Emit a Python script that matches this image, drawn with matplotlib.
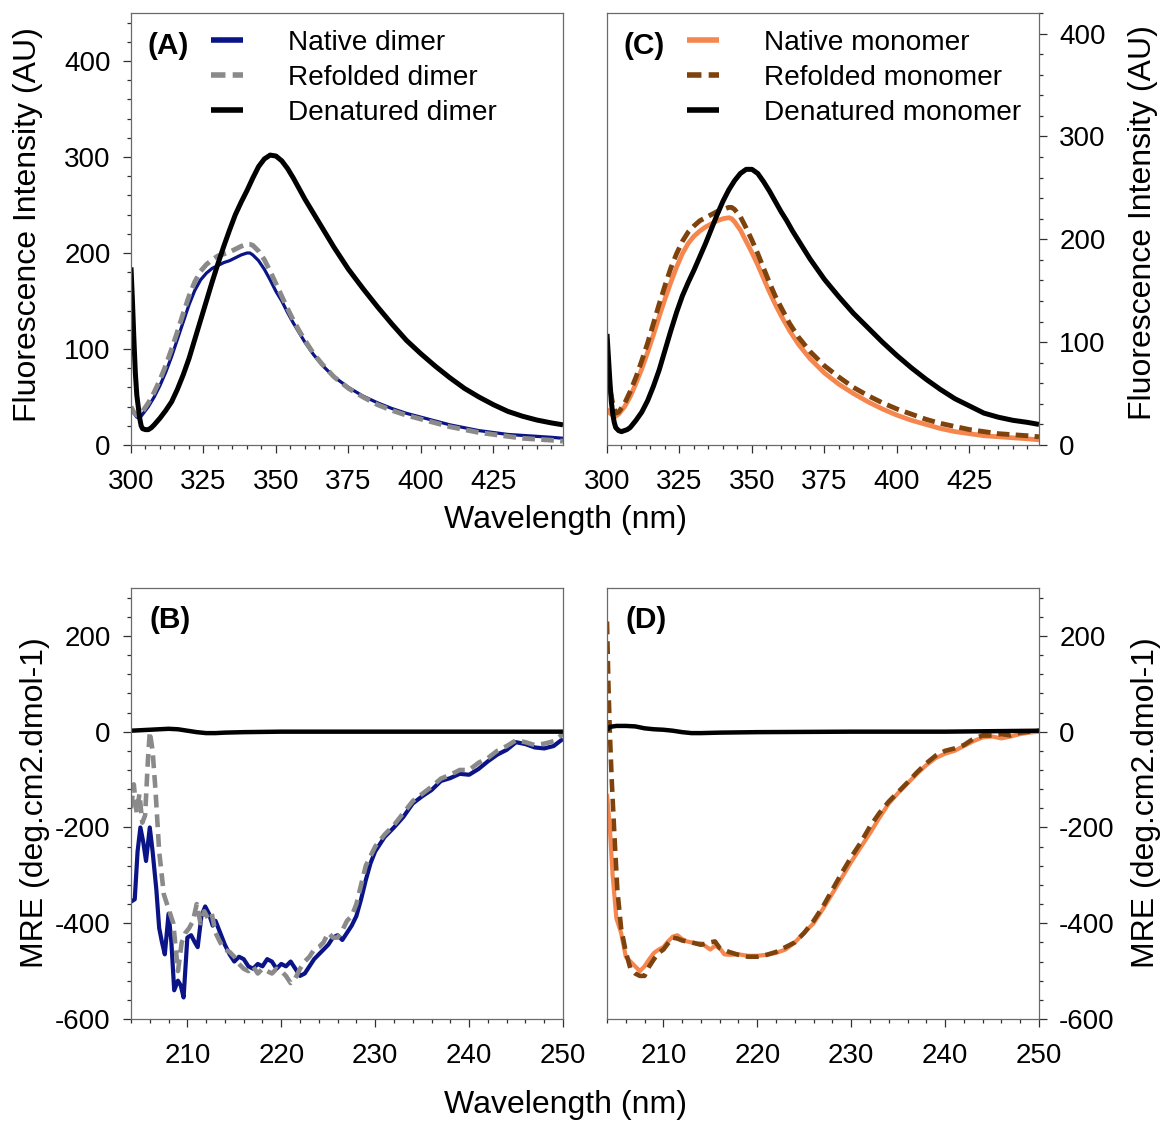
import numpy as np
import matplotlib
matplotlib.use('Agg')
import matplotlib.pyplot as plt
from matplotlib.ticker import MultipleLocator

plt.rcParams['font.family'] = ['Liberation Sans', 'DejaVu Sans']
plt.rcParams['axes.unicode_minus'] = False

# ---- Fluorescencia (A, C): pares (comprimento de onda nm, intensidade AU) ----
dimero_nativo = [(300, 38), (301, 33), (302, 29), (303, 28), (304, 32), (306, 40), (308, 50), (310, 62),
                 (312, 76), (314, 92), (316, 110), (318, 128), (320, 146), (322, 161), (324, 172), (326, 179),
                 (328, 184), (330, 187), (332, 190), (334, 192), (336, 195), (338, 198), (340, 200), (341, 200),
                 (342, 198), (344, 192), (346, 183), (348, 172), (350, 160), (352, 150), (354, 138), (356, 127),
                 (358, 117), (360, 107), (363, 94), (366, 83), (370, 71), (375, 60), (380, 51), (385, 44),
                 (390, 38), (395, 33), (400, 29), (405, 25), (410, 21), (415, 18), (420, 15), (425, 13),
                 (430, 11), (435, 10), (440, 9), (445, 8), (449, 7)]
dimero_redobrado = [(300, 40), (301, 34), (302, 31), (303, 31), (304, 35), (306, 44), (308, 55), (310, 68),
                    (312, 83), (314, 100), (316, 118), (318, 137), (320, 155), (322, 170), (324, 181), (326, 188),
                    (328, 193), (330, 197), (332, 199), (334, 201), (336, 204), (338, 207), (340, 209), (341, 209),
                    (342, 208), (344, 202), (346, 193), (348, 181), (350, 168), (352, 155), (354, 142), (356, 130),
                    (358, 119), (360, 109), (363, 95), (366, 84), (370, 71), (375, 59), (380, 50), (385, 42),
                    (390, 36), (395, 31), (400, 27), (405, 23), (410, 19), (415, 16), (420, 13), (425, 11),
                    (430, 9), (435, 7), (440, 6), (445, 5), (449, 4)]
dimero_desnat = [(300, 185), (300.5, 150), (301, 110), (301.5, 75), (302, 52), (302.5, 40), (303, 28),
                 (303.5, 20), (304, 17), (305, 16), (306, 16), (307, 18), (308, 21), (310, 28), (312, 36),
                 (314, 45), (316, 58), (318, 73), (320, 90), (322, 110), (324, 130), (326, 150), (328, 170),
                 (330, 189), (332, 207), (334, 224), (336, 240), (338, 253), (340, 265), (342, 278), (344, 290),
                 (346, 298), (348, 302), (350, 301), (352, 296), (354, 288), (356, 278), (358, 267), (360, 256),
                 (362, 246), (364, 236), (366, 226), (368, 216), (370, 206), (375, 183), (380, 163), (385, 144),
                 (390, 126), (395, 109), (400, 95), (405, 82), (410, 70), (415, 59), (420, 50), (425, 42),
                 (430, 35), (435, 30), (440, 26), (445, 23), (449, 21)]

monomero_nativo = [(300, 35), (301, 31), (302, 29), (303, 28), (304, 30), (306, 37), (308, 47), (310, 60),
                   (312, 74), (314, 90), (316, 107), (318, 125), (320, 142), (322, 158), (324, 173), (326, 186),
                   (328, 196), (330, 203), (332, 208), (334, 212), (336, 215), (338, 218), (340, 220), (342, 221),
                   (343, 220), (344, 217), (346, 209), (348, 198), (350, 187), (352, 175), (354, 162), (356, 149),
                   (358, 137), (360, 126), (363, 111), (366, 98), (370, 84), (375, 70), (380, 59), (385, 50),
                   (390, 42), (395, 35), (400, 29), (405, 24), (410, 20), (415, 16), (420, 13), (425, 11),
                   (430, 9), (435, 8), (440, 7), (445, 6), (449, 5)]
monomero_redobrado = [(300, 71), (301, 55), (302, 40), (303, 31), (304, 32), (306, 40), (308, 52), (310, 66),
                      (312, 82), (314, 99), (316, 118), (318, 137), (320, 155), (322, 172), (324, 186), (326, 198),
                      (328, 207), (330, 213), (332, 218), (334, 221), (336, 224), (338, 227), (340, 229), (342, 231),
                      (343, 231), (344, 229), (346, 222), (348, 211), (350, 199), (352, 186), (354, 172), (356, 158),
                      (358, 145), (360, 134), (363, 118), (366, 105), (370, 91), (375, 77), (380, 66), (385, 56),
                      (390, 48), (395, 41), (400, 35), (405, 30), (410, 25), (415, 21), (420, 18), (425, 15),
                      (430, 13), (435, 11), (440, 10), (445, 9), (449, 8)]
monomero_desnat = [(300, 108), (300.5, 85), (301, 62), (301.5, 42), (302, 30), (302.5, 22), (303, 17),
                   (304, 14), (305, 13), (306, 14), (307, 15), (308, 17), (310, 24), (312, 32), (314, 43),
                   (316, 57), (318, 73), (320, 92), (322, 111), (324, 129), (326, 145), (328, 158), (330, 170),
                   (332, 183), (334, 196), (336, 210), (338, 224), (340, 237), (342, 248), (344, 257), (346, 264),
                   (348, 268), (350, 268), (352, 264), (354, 256), (356, 247), (358, 237), (360, 227), (362, 218),
                   (364, 208), (366, 199), (368, 190), (370, 181), (375, 161), (380, 144), (385, 128), (390, 114),
                   (395, 100), (400, 87), (405, 75), (410, 64), (415, 54), (420, 45), (425, 38), (430, 31),
                   (435, 27), (440, 24), (445, 22), (449, 20)]

# ---- Dicroismo circular (B, D): pares (nm, MRE) ----
cd_dimero_nativo = [(204, -355), (204.4, -350), (204.7, -250), (205, -200), (205.3, -230), (205.6, -270),
                    (206, -200), (206.3, -250), (206.7, -330), (207, -410), (207.3, -440), (207.6, -465),
                    (208, -380), (208.3, -440), (208.6, -540), (209, -520), (209.3, -530), (209.6, -555),
                    (210, -430), (210.4, -425), (210.8, -440), (211.1, -450), (211.5, -385), (211.9, -365),
                    (212.3, -380), (212.7, -405), (213, -395), (213.5, -420), (214, -445), (214.5, -465),
                    (215, -480), (215.5, -470), (216, -475), (216.5, -490), (217, -495), (217.5, -485),
                    (218, -490), (218.5, -475), (219, -480), (219.5, -495), (220, -485), (220.5, -490),
                    (221, -480), (221.5, -495), (222, -510), (222.5, -505), (223, -490), (223.5, -475),
                    (224, -465), (224.5, -455), (225, -445), (225.5, -430), (226, -425), (226.5, -435),
                    (227, -420), (227.5, -405), (228, -385), (228.5, -350), (229, -310), (229.5, -275),
                    (230, -250), (231, -220), (232, -200), (233, -178), (234, -150), (235, -135), (236, -122),
                    (237, -103), (238, -97), (239, -88), (240, -90), (241, -78), (242, -62), (243, -48),
                    (244, -38), (245, -22), (246, -26), (247, -33), (248, -35), (249, -30), (250, -15)]
cd_dimero_redobrado = [(204, -160), (204.3, -110), (204.6, -170), (204.9, -130), (205.2, -190), (205.5, -175),
                       (205.8, -60), (206, 0), (206.3, -40), (206.6, -120), (207, -250), (207.5, -340),
                       (208, -370), (208.5, -400), (209, -500), (209.4, -440), (209.8, -420), (210.2, -410),
                       (210.6, -395), (211, -360), (211.4, -400), (211.8, -375), (212.2, -390), (212.6, -380),
                       (213, -420), (213.5, -440), (214, -455), (214.5, -460), (215, -470), (215.5, -485),
                       (216, -495), (216.5, -500), (217, -490), (217.5, -505), (218, -495), (218.5, -500),
                       (219, -505), (219.5, -495), (220, -500), (220.5, -510), (221, -525), (221.5, -515),
                       (222, -495), (222.5, -480), (223, -470), (223.5, -455), (224, -450), (224.5, -440),
                       (225, -420), (225.5, -430), (226, -430), (226.5, -415), (227, -395), (227.5, -385),
                       (228, -360), (228.5, -320), (229, -280), (229.5, -260), (230, -240), (231, -215),
                       (232, -195), (233, -170), (234, -145), (235, -130), (236, -115), (237, -98), (238, -90),
                       (239, -80), (240, -80), (241, -65), (242, -55), (243, -40), (244, -30), (245, -18),
                       (246, -22), (247, -28), (248, -25), (249, -20), (250, -5)]
cd_dimero_desnat = [(204, 2), (205, 3), (206, 4), (207, 5), (208, 6), (209, 5), (210, 2), (211, -1),
                    (212, -3), (213, -3), (214, -2), (216, -1), (220, 0), (230, 0), (240, 0), (250, 0)]

cd_monomero_nativo = [(204, -130), (204.3, -200), (204.6, -300), (205, -390), (205.5, -420), (206, -470),
                      (206.5, -480), (207, -490), (207.5, -500), (208, -490), (208.5, -475), (209, -462),
                      (209.5, -455), (210, -450), (210.5, -438), (211, -428), (211.5, -425), (212, -433),
                      (212.5, -438), (213, -440), (213.5, -442), (214, -442), (214.5, -448), (215, -455),
                      (215.5, -447), (216, -452), (216.5, -465), (217, -466), (218, -465), (219, -468),
                      (220, -468), (221, -466), (222, -462), (223, -455), (224, -440), (225, -420), (226, -400),
                      (227, -370), (228, -338), (229, -305), (230, -272), (231, -242), (232, -212), (233, -180),
                      (234, -150), (235, -128), (236, -108), (237, -88), (238, -70), (239, -55), (240, -46),
                      (241, -40), (242, -30), (243, -20), (244, -12), (245, -10), (246, -14), (247, -10),
                      (248, -5), (249, -2), (250, 0)]
cd_monomero_redobrado = [(204, 230), (204.15, 100), (204.3, 0), (204.5, -100), (204.8, -220), (205.1, -330),
                         (205.5, -410), (206, -460), (206.5, -495), (207, -505), (207.5, -510), (208, -510),
                         (208.5, -490), (209, -475), (209.5, -462), (210, -455), (210.5, -442), (211, -430),
                         (211.5, -432), (212, -436), (213, -440), (214, -445), (215, -440), (215.5, -438),
                         (216, -452), (217, -460), (218, -466), (219, -470), (220, -470), (221, -466),
                         (222, -460), (223, -450), (224, -440), (225, -420), (226, -395), (227, -365),
                         (228, -330), (229, -295), (230, -262), (231, -232), (232, -198), (233, -170),
                         (234, -146), (235, -126), (236, -106), (237, -85), (238, -66), (239, -50), (240, -40),
                         (241, -35), (242, -28), (243, -15), (244, -8), (245, -8), (246, -5), (247, -8),
                         (248, -2), (249, 0), (250, 2)]
cd_monomero_desnat = [(204, 3), (204.3, 10), (205, 12), (206, 12), (207, 11), (208, 7), (209, 5), (210, 4),
                      (211, 2), (212, -1), (213, -3), (214, -3), (216, -2), (220, -1), (230, 0), (240, 0),
                      (250, 2)]

AZUL = '#0b1487'
CINZA = '#8a8a8a'
LARANJA = '#f5874e'
MARROM = '#7e420c'

W, H = 1163, 1122
fig = plt.figure(figsize=(W / 100, H / 100), dpi=100)


def eixo(x0, y0, x1, y1):
    return fig.add_axes([x0 / W, 1 - y1 / H, (x1 - x0) / W, (y1 - y0) / H])


axA = eixo(131, 13, 563, 445)
axC = eixo(607, 13, 1039, 445)
axB = eixo(131, 588, 563, 1019)
axD = eixo(607, 588, 1039, 1019)


def estilo(ax, lado='left'):
    for s in ax.spines.values():
        s.set_color('#6a6a6a')
        s.set_linewidth(0.9)
    if lado == 'right':
        ax.yaxis.tick_right()
    ax.tick_params(which='both', direction='out', labelsize=20, color='#303030', width=0.9)
    ax.tick_params(which='major', length=5.5, pad=9)
    ax.tick_params(axis='x', which='major', pad=12)
    ax.tick_params(which='minor', length=3.2)


def curva(ax, pares, **kw):
    x, y = np.array(pares, dtype=float).T
    return ax.plot(x, y, solid_capstyle='butt', **kw)


# Fluorescencia
for ax, nat, red, den, cor_nat, cor_red, nome, letra, lado, ymax in [
        (axA, dimero_nativo, dimero_redobrado, dimero_desnat, AZUL, CINZA, 'dimer', '(A)', 'left', 450),
        (axC, monomero_nativo, monomero_redobrado, monomero_desnat, LARANJA, MARROM, 'monomer', '(C)', 'right', 420)]:
    lw_nat = 2.3 if ax is axA else 3.4
    curva(ax, nat, color=cor_nat, lw=lw_nat, label='Native ' + nome)
    curva(ax, red, color=cor_red, lw=3.5, dashes=(2.6, 1.3), label='Refolded ' + nome)
    curva(ax, den, color='black', lw=3.6, label='Denatured ' + nome)
    ax.set_xlim(300, 449)
    ax.set_ylim(0, ymax)
    ax.xaxis.set_major_locator(MultipleLocator(25))
    ax.xaxis.set_minor_locator(MultipleLocator(5))
    ax.yaxis.set_major_locator(MultipleLocator(100))
    ax.yaxis.set_minor_locator(MultipleLocator(20))
    estilo(ax, lado)
    ax.text(0.038, 0.924, letra, transform=ax.transAxes, fontsize=21.5, fontweight='bold', va='center')
    leg = ax.legend(loc='upper left', bbox_to_anchor=(0.185, 0.96), frameon=False, fontsize=20.2,
                    handlelength=1.15, handletextpad=1.6, labelspacing=0.31, borderpad=0, borderaxespad=0)
    for h in leg.get_lines():
        h.set_linewidth(4)

# Dicroismo circular
for ax, nat, red, den, cor_nat, cor_red, letra, lado in [
        (axB, cd_dimero_nativo, cd_dimero_redobrado, cd_dimero_desnat, AZUL, CINZA, '(B)', 'left'),
        (axD, cd_monomero_nativo, cd_monomero_redobrado, cd_monomero_desnat, LARANJA, MARROM, '(D)', 'right')]:
    curva(ax, nat, color=cor_nat, lw=3.0)
    curva(ax, red, color=cor_red, lw=3.3, dashes=(2.8, 1.5))
    curva(ax, den, color='black', lw=3.2)
    ax.set_xlim(204, 250)
    ax.set_ylim(-600, 300)
    ax.xaxis.set_major_locator(MultipleLocator(10))
    ax.xaxis.set_minor_locator(MultipleLocator(2))
    ax.yaxis.set_major_locator(MultipleLocator(200))
    ax.yaxis.set_minor_locator(MultipleLocator(40))
    estilo(ax, lado)
    ax.text(0.042, 0.925, letra, transform=ax.transAxes, fontsize=21.5, fontweight='bold', va='center')

# Rotulos dos eixos
fig.text(566 / W, 1 - 520 / H, 'Wavelength (nm)', fontsize=23, ha='center', va='center')
fig.text(566 / W, 1 - 1105 / H, 'Wavelength (nm)', fontsize=23, ha='center', va='center')
fig.text(28 / W, 1 - 225 / H, 'Fluorescence Intensity (AU)', fontsize=23, rotation=90, ha='center', va='center')
fig.text(1143 / W, 1 - 223 / H, 'Fluorescence Intensity (AU)', fontsize=23, rotation=90, ha='center', va='center')
fig.text(35 / W, 1 - 803 / H, 'MRE (deg.cm2.dmol-1)', fontsize=23, rotation=90, ha='center', va='center')
fig.text(1146 / W, 1 - 803 / H, 'MRE (deg.cm2.dmol-1)', fontsize=23, rotation=90, ha='center', va='center')

fig.savefig('out.png', dpi=100)
